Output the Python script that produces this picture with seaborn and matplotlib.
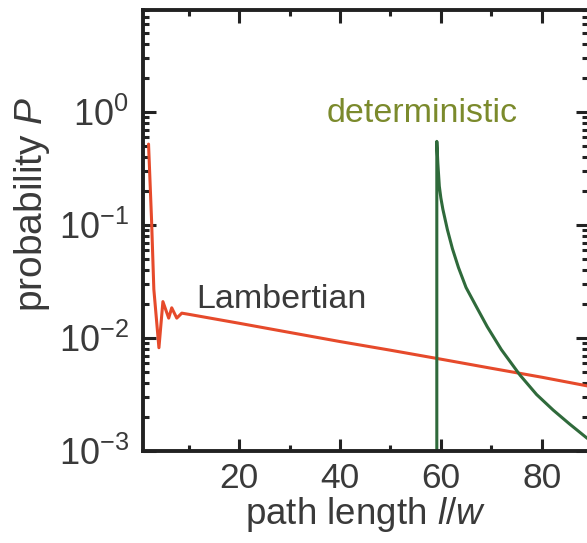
import pandas as pd
import seaborn as sns
import matplotlib.pyplot as plt
from matplotlib.ticker import MultipleLocator, LogLocator

# Lambertian path length distribution
lamb_x = [2.0, 2.6, 3.05, 4.06, 4.85, 6.0, 6.6, 7.6, 8.6, 10, 20, 30, 40, 50, 60, 70, 80, 90]
lamb_p = [0.52, 0.11, 0.027, 0.0082, 0.021, 0.015, 0.0185, 0.015, 0.0166, 0.0162,
          0.0135, 0.0112, 0.0093, 0.0078, 0.0065, 0.0054, 0.0045, 0.0037]

# deterministic distribution: zero below l/w ~ 59, then sharp peak and decay
det_x = [59.2, 59.2, 59.4, 59.7, 60.0, 60.4, 61.3, 62.3, 63.5, 65.0, 67.0, 69.2,
         72.0, 75.7, 79.0, 82.3, 85.5, 89.0, 90.0]
det_p = [1e-5, 0.55, 0.355, 0.22, 0.174, 0.138, 0.091, 0.0617, 0.042, 0.028, 0.0191, 0.0126,
         0.0079, 0.0047, 0.00316, 0.0023, 0.00174, 0.0013, 0.00123]

x_ticks = [20, 40, 60, 80]

sns.set_style("ticks")
plt.rcParams['font.family'] = ['Liberation Sans', 'DejaVu Sans']
plt.rcParams['mathtext.fontset'] = 'custom'
plt.rcParams['mathtext.rm'] = 'Liberation Sans'
plt.rcParams['mathtext.it'] = 'Liberation Sans:italic'
plt.rcParams['axes.unicode_minus'] = False

text_col = '#3a3a3a'
red = '#e64a2b'
green = '#2f6a3b'

df_lamb = pd.DataFrame({'l': lamb_x, 'P': lamb_p})
df_det = pd.DataFrame({'l': det_x, 'P': det_p})

fig = plt.figure(figsize=(5.87, 5.43), dpi=100)
ax = fig.add_axes([143 / 587, 1 - 451 / 543, (588 - 143) / 587, (451 - 10) / 543])

sns.lineplot(data=df_lamb, x='l', y='P', color=red, lw=2.2, estimator=None, sort=False, ax=ax)
sns.lineplot(data=df_det, x='l', y='P', color=green, lw=2.2, estimator=None, sort=False, ax=ax)

ax.set_yscale('log')
ax.set_xlim(0.9, 89.2)
ax.set_ylim(1e-3, 8)

ax.xaxis.set_major_locator(MultipleLocator(20))
ax.xaxis.set_minor_locator(MultipleLocator(10))
ax.set_xticks(x_ticks)
ax.yaxis.set_major_locator(LogLocator(base=10))
ax.yaxis.set_minor_locator(LogLocator(base=10, subs=range(2, 10)))

ax.tick_params(which='both', direction='in', top=True, right=True, width=2.2,
               color='#222222', labelcolor=text_col, labelsize=26, pad=10)
ax.tick_params(axis='x', which='both', labelsize=25.5, pad=8)
ax.tick_params(which='major', length=9)
ax.tick_params(which='minor', length=4.5)
for s in ax.spines.values():
    s.set_linewidth(2.8)
    s.set_color('#222222')

ax.set_xlabel('path length $l/w$', fontsize=26.5, color=text_col, labelpad=0)
ax.set_ylabel('probability $P$', fontsize=28, color=text_col)
ax.yaxis.set_label_coords(-0.205, 0.56)

ax.text(11.4, 0.0184, 'Lambertian', fontsize=24.5, color=text_col, ha='left', va='baseline')
ax.text(56.3, 0.816, 'deterministic', fontsize=24.5, color='#7b8a2c', ha='center', va='baseline')

plt.savefig('out.png', dpi=100)
